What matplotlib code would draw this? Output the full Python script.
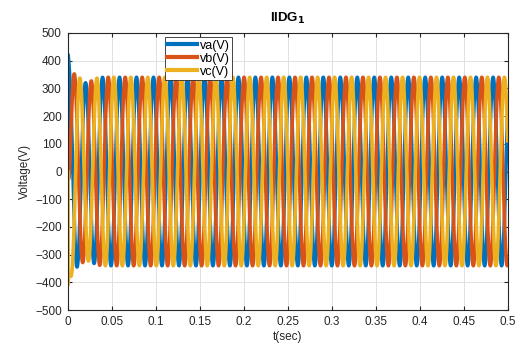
import numpy as np
import matplotlib
matplotlib.use("Agg")
import matplotlib.pyplot as plt

plt.rcParams['font.family'] = ['Liberation Sans', 'DejaVu Sans']

# ---- data ----
freq_hz = 51.8                      # blue peaks every ~0.0193 s
phase0_deg = 77.0                   # va phase at t = 0
env_t = [0.0, 0.008, 0.014, 0.020, 0.026, 0.033, 0.040, 0.5]
env_v = [350, 350, 336, 320, 326, 337, 340, 340]   # peak amplitude (V)
dc_offset = [85, 235, -320]         # decaying start-up offsets of va, vb, vc (V)
dc_tau = 0.0015                     # decay time of the offsets (s)
t_start_step = 0.00015              # voltages start from 0 and jump
t_end = 0.5
series_names = ['va(V)', 'vb(V)', 'vc(V)']
phase_shift_deg = [0, -120, 120]
colors = ['#0072BD', '#D95319', '#EDB120']
xticks = [0, 0.05, 0.1, 0.15, 0.2, 0.25, 0.3, 0.35, 0.4, 0.45, 0.5]
xtick_labels = ['0', '0.05', '0.1', '0.15', '0.2', '0.25', '0.3', '0.35', '0.4', '0.45', '0.5']
yticks = list(range(-500, 501, 100))

t = np.linspace(0, t_end, 20001)
env = np.interp(t, env_t, env_v)

fig = plt.figure(figsize=(5.15, 3.43), dpi=100)
ax = fig.add_axes([0.132, 0.096, 0.854, 0.808])

for name, ps, dc, c in zip(series_names, phase_shift_deg, dc_offset, colors):
    v = env * np.sin(2 * np.pi * freq_hz * t + np.deg2rad(phase0_deg + ps)) \
        + dc * np.exp(-t / dc_tau)
    v[t < t_start_step] = 0.0
    ax.plot(t, v, color=c, lw=2.6, label=name)

ax.set_xlim(0, 0.5)
ax.set_ylim(-500, 500)
ax.set_xticks(xticks)
ax.set_xticklabels(xtick_labels)
ax.set_yticks(yticks)
ax.grid(True, color='#dcdcdc', lw=0.6)
ax.set_axisbelow(True)
ax.tick_params(direction='in', length=3, labelsize=8.5, colors='#262626', pad=4.5,
               top=True, right=True)
for sp in ax.spines.values():
    sp.set_color('#262626')
    sp.set_linewidth(0.8)

ax.set_xlabel('t(sec)', fontsize=8.5, labelpad=2, color='#262626')
ax.set_ylabel('Voltage(V)', fontsize=8.5, labelpad=3, color='#262626')
ax.set_title(r'IIDG$_\mathbf{1}$', fontsize=9.5, fontweight='bold', pad=8)

leg = ax.legend(loc='upper left', bbox_to_anchor=(0.22, 0.985), fontsize=9,
                handlelength=2.4, handletextpad=0.2, borderpad=0.2,
                labelspacing=0.08, fancybox=False, framealpha=1,
                edgecolor='#262626', borderaxespad=0)
for line in leg.get_lines():
    line.set_linewidth(3)
leg.get_frame().set_linewidth(0.6)

fig.savefig('out.png', dpi=100)
